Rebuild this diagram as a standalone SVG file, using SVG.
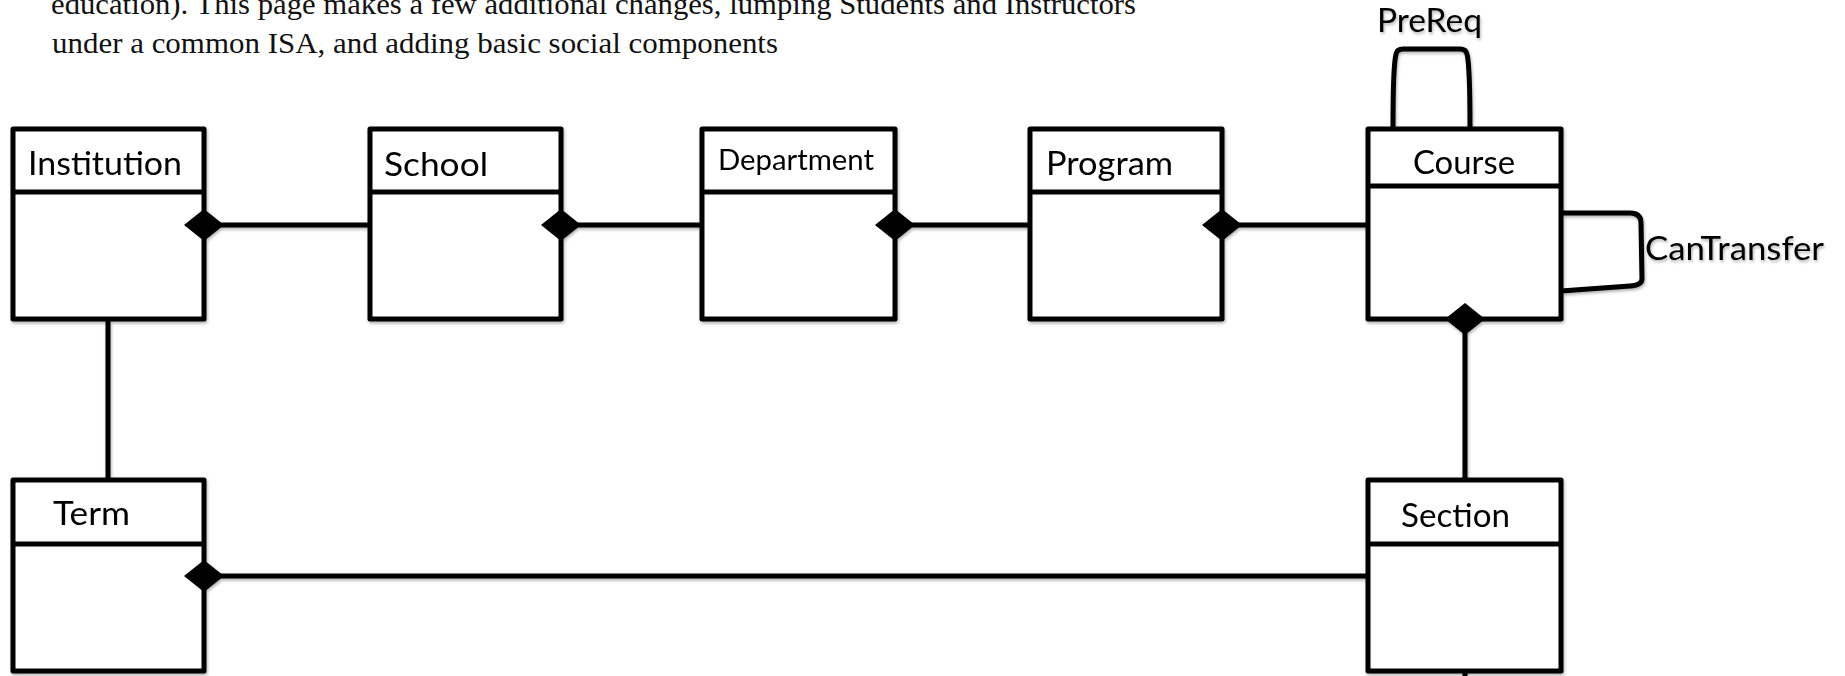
<svg xmlns="http://www.w3.org/2000/svg" width="1845" height="676" viewBox="0 0 1845 676">
<style>
.box{fill:#fff;stroke:#000;stroke-width:5;stroke-linejoin:round}
.div{stroke:#000;stroke-width:5}
.conn{fill:none;stroke:#000;stroke-width:5;stroke-linejoin:round}
.lbl{font-family:Lato,"Open Sans","Liberation Sans",sans-serif;font-size:33px;fill:#000}
.small{font-size:28.5px}
.prose{font-family:"Liberation Serif","Times New Roman",serif;font-size:29px;fill:#111}
</style>
<defs>
<filter id="sh" x="-5%" y="-5%" width="110%" height="110%">
<feDropShadow dx="1" dy="2" stdDeviation="1.5" flood-color="#000" flood-opacity="0.3"/>
</filter>
<marker id="dia" viewBox="-21 -17 42 34" refX="0" refY="0" markerWidth="42" markerHeight="34" markerUnits="userSpaceOnUse" orient="0">
<path d="M-20,0 L0,-16 L20,0 L0,16 Z" fill="#000"/>
</marker>
</defs>
<rect width="1845" height="676" fill="#fff"/>
<text class="prose" x="51" y="14" textLength="1085" lengthAdjust="spacingAndGlyphs">education). This page makes a few additional changes, lumping Students and Instructors</text>
<text class="prose" x="52" y="53" textLength="726" lengthAdjust="spacingAndGlyphs">under a common ISA, and adding basic social components</text>
<g filter="url(#sh)">
<g id="institution">
<rect class="box" x="13" y="129" width="191" height="190"/>
<line class="div" x1="13" y1="192" x2="204" y2="192"/>
<text class="lbl" x="28" y="175" textLength="154" lengthAdjust="spacingAndGlyphs">Institution</text>
</g>
<g id="school">
<rect class="box" x="370" y="129" width="191" height="190"/>
<line class="div" x1="370" y1="192" x2="561" y2="192"/>
<text class="lbl" x="384" y="176" textLength="104" lengthAdjust="spacingAndGlyphs">School</text>
</g>
<g id="department">
<rect class="box" x="702" y="129" width="193" height="190"/>
<line class="div" x1="702" y1="192" x2="895" y2="192"/>
<text class="lbl small" x="718" y="170" textLength="156" lengthAdjust="spacingAndGlyphs">Department</text>
</g>
<g id="program">
<rect class="box" x="1030" y="129" width="192" height="190"/>
<line class="div" x1="1030" y1="192" x2="1222" y2="192"/>
<text class="lbl" x="1046" y="175" textLength="127" lengthAdjust="spacingAndGlyphs">Program</text>
</g>
<g id="course">
<rect class="box" x="1368" y="129" width="193" height="190"/>
<line class="div" x1="1368" y1="186" x2="1561" y2="186"/>
<text class="lbl" x="1413" y="174" textLength="102" lengthAdjust="spacingAndGlyphs">Course</text>
</g>
<g id="term">
<rect class="box" x="13" y="480" width="191" height="191"/>
<line class="div" x1="13" y1="544" x2="204" y2="544"/>
<text class="lbl" x="53" y="525" textLength="77" lengthAdjust="spacingAndGlyphs">Term</text>
</g>
<g id="section">
<rect class="box" x="1368" y="480" width="193" height="191"/>
<line class="div" x1="1368" y1="544" x2="1561" y2="544"/>
<text class="lbl" x="1401" y="527" textLength="109" lengthAdjust="spacingAndGlyphs">Section</text>
</g>
<g id="connectors">
<line class="conn" x1="204" y1="225" x2="370" y2="225" marker-start="url(#dia)"/>
<line class="conn" x1="561" y1="225" x2="702" y2="225" marker-start="url(#dia)"/>
<line class="conn" x1="895" y1="225" x2="1030" y2="225" marker-start="url(#dia)"/>
<line class="conn" x1="1222" y1="225" x2="1368" y2="225" marker-start="url(#dia)"/>
<line class="conn" x1="1465" y1="319" x2="1465" y2="480" marker-start="url(#dia)"/>
<line class="conn" x1="204" y1="576" x2="1368" y2="576" marker-start="url(#dia)"/>
<line class="conn" x1="108" y1="319" x2="108" y2="480"/>
<line class="conn" x1="1465" y1="671" x2="1465" y2="680"/>
<path class="conn" d="M1393,128 C1393,95 1394,62 1396,54 Q1397,49 1403,49 L1460,49 Q1466,49 1467,54 C1469,62 1470,95 1470,128"/>
<path class="conn" d="M1561,213 L1630,213 Q1641,213 1641,223 L1642,279 Q1642,285 1630,286 L1561,291"/>
<text class="lbl" x="1377" y="32" textLength="105" lengthAdjust="spacingAndGlyphs">PreReq</text>
<text class="lbl" x="1645" y="260" textLength="179" lengthAdjust="spacingAndGlyphs">CanTransfer</text>
</g>
</g>
</svg>
